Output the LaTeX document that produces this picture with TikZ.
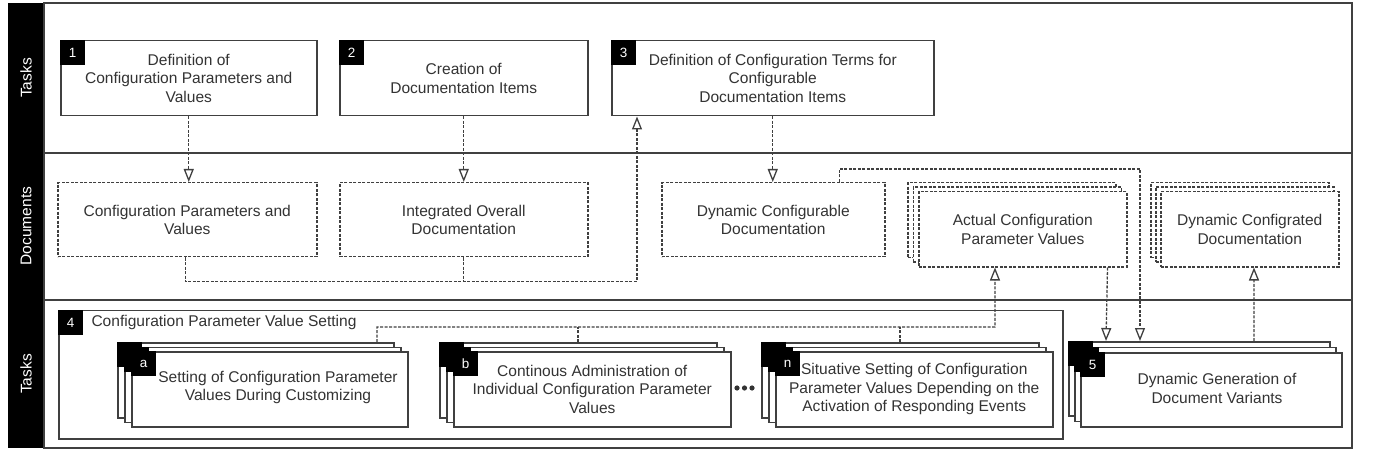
\documentclass[tikz,border=0pt]{standalone}
\usepackage{fontspec}
\setmainfont{Liberation Sans}
\usetikzlibrary{arrows.meta}
\definecolor{ln}{HTML}{404040}
\definecolor{tx}{HTML}{333333}
\begin{document}
\begin{tikzpicture}[x=1bp,y=-1bp,
  every node/.style={font=\fontsize{15.6}{18.5}\selectfont, text=tx, align=center},
  task/.style={draw=ln, line width=1.5bp, fill=white, inner sep=0pt, anchor=north west},
  doc/.style={task, dash pattern=on 3bp off 1.5bp},
  badge/.style={fill=black, text=white, inner sep=0pt, minimum width=25bp, minimum height=25bp, anchor=north west, font=\fontsize{13.5}{13.5}\selectfont},
  link/.style={draw=ln, line width=1.3bp, dash pattern=on 3bp off 1.5bp},
  conn/.style={link, -{Triangle[open,length=13bp,width=10bp,fill=white]}},
  frame/.style={draw=ln, line width=2bp},
  lanelabel/.style={rotate=90, text=white}]
\useasboundingbox (0,0) rectangle (1378,455);
% frame and lanes
\fill[black] (8,3) rectangle (44,448);
\draw[frame] (44,3) rectangle (1352,448);
\draw[frame] (44,153) -- (1352,153);
\draw[frame] (44,300) -- (1352,300);
\node[lanelabel] (l1) at (26,78) {Tasks};
\node[lanelabel] (l2) at (26,226) {Documents};
\node[lanelabel] (l3) at (26,374) {Tasks};
% row 1 tasks
\node[task, minimum width=256bp, minimum height=75bp] (box1) at (60,40) {Definition of\\Configuration Parameters and\\Values};
\node[badge] (bd1) at (60,40) {1};
\node[task, minimum width=248bp, minimum height=75bp] (box2) at (339,40) {Creation of\\Documentation Items};
\node[badge] (bd2) at (339,40) {2};
\node[task, minimum width=322bp, minimum height=75bp] (box3) at (611,40) {Definition of Configuration Terms for\\Configurable\\Documentation Items};
\node[badge] (bd3) at (611,40) {3};
% documents
\node[doc, minimum width=259bp, minimum height=74bp] (doc1) at (57,182) {Configuration Parameters and\\Values};
\node[doc, minimum width=248bp, minimum height=74bp] (doc2) at (339,182) {Integrated Overall\\Documentation};
\node[doc, minimum width=223bp, minimum height=74bp] (doc3) at (661,182) {Dynamic Configurable\\Documentation};
\node[doc, minimum width=208bp, minimum height=75bp] (d4a) at (907,182) {};
\node[doc, minimum width=208bp, minimum height=75bp] (d4b) at (912.5,186.5) {};
\node[doc, minimum width=208bp, minimum height=75bp] (d4c) at (918,191) {Actual Configuration\\Parameter Values};
\node[doc, minimum width=178bp, minimum height=75bp] (d5a) at (1150,182) {};
\node[doc, minimum width=178bp, minimum height=75bp] (d5b) at (1155,186.5) {};
\node[doc, minimum width=178bp, minimum height=75bp] (d5c) at (1160,191) {Dynamic Configrated\\Documentation};
% task 4 container
\node[task, minimum width=1004bp, minimum height=128bp] (box4) at (58,310) {};
\node[badge] (bd4) at (58,310) {4};
\node[anchor=west] (t4) at (88,322.5) {Configuration Parameter Value Setting};
% sub a
\node[task, minimum width=276bp, minimum height=75bp] (sa1) at (117,342) {};
\node[badge] at (117,342) {};
\node[task, minimum width=276bp, minimum height=75bp] (sa2) at (124,346.5) {};
\node[badge] at (124,346.5) {};
\node[task, minimum width=276bp, minimum height=75bp] (sa3) at (131,351) {};
\node[badge] (bda) at (131,351) {a};
\node (ta) at (278,387.5) {Setting of Configuration Parameter\\Values During Customizing};
% sub b
\node[task, minimum width=277bp, minimum height=75bp] (sb1) at (439,342) {};
\node[badge] at (439,342) {};
\node[task, minimum width=277bp, minimum height=75bp] (sb2) at (446,346.5) {};
\node[badge] at (446,346.5) {};
\node[task, minimum width=277bp, minimum height=75bp] (sb3) at (453,351) {Continous Administration of\\Individual Configuration Parameter\\Values};
\node[badge] (bdb) at (453,351) {b};
% sub n
\node[task, minimum width=277bp, minimum height=75bp] (sn1) at (761,342) {};
\node[badge] at (761,342) {};
\node[task, minimum width=277bp, minimum height=75bp] (sn2) at (768,346.5) {};
\node[badge] at (768,346.5) {};
\node[task, minimum width=277bp, minimum height=75bp] (sn3) at (775,351) {Situative Setting of Configuration\\Parameter Values Depending on the\\Activation of Responding Events};
\node[badge] (bdn) at (775,351) {n};
% dots
\fill[tx] (737,388) circle[radius=2.6bp] (744.5,388) circle[radius=2.6bp] (752,388) circle[radius=2.6bp];
% box 5
\node[task, minimum width=261bp, minimum height=74bp] (b5a) at (1068,341) {};
\node[badge] at (1068,341) {};
\node[task, minimum width=261bp, minimum height=74bp] (b5b) at (1074,346.5) {};
\node[badge] at (1074,346.5) {};
\node[task, minimum width=261bp, minimum height=74bp] (b5c) at (1080,352) {};
\node[badge] (bd5) at (1080,352) {5};
\node (t5) at (1217,388.5) {Dynamic Generation of\\Document Variants};
% connectors
\draw[conn] (box1.south) -- (box1.south |- doc1.north);
\draw[conn] (box2.south) -- (box2.south |- doc2.north);
\draw[conn] (box3.south) -- (box3.south |- doc3.north);
\draw[conn] ([xshift=-2bp]doc1.south) -- ++(0,24) -| ([xshift=26bp]box3.south west);
\draw[link] (doc2.south) -- ++(0,24);
\draw[conn] ([xshift=66bp]doc3.north) -- ++(0,-13) -| ([xshift=72bp]b5a.north west);
\draw[conn] ([xshift=-20bp]d4c.south east) -- ([xshift=38bp]b5a.north west);
\coordinate (bus) at (995,327);
\draw[conn] ([xshift=260bp]sa1.north west) |- (bus) -- ([xshift=77bp]d4c.south west);
\draw[link] ([xshift=139bp]sb1.north west) -- ++(0,-15);
\draw[link] ([xshift=139bp]sn1.north west) -- ++(0,-15);
\draw[conn] ([xshift=186bp]b5a.north west) -- ([xshift=94bp]d5c.south west);
\end{tikzpicture}
\end{document}
